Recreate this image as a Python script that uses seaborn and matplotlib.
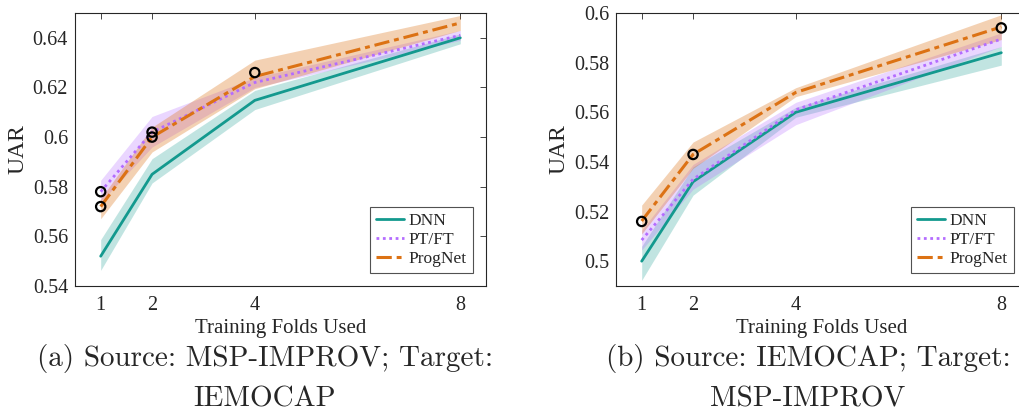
import numpy as np
import pandas as pd
import matplotlib
matplotlib.use("Agg")
import matplotlib.pyplot as plt
import seaborn as sns
from matplotlib.lines import Line2D

folds = [1, 2, 4, 8]
methods = ["DNN", "PT/FT", "ProgNet"]

# Panel (a): Source MSP-IMPROV, Target IEMOCAP
a_dnn = [0.552, 0.585, 0.6148, 0.640]
a_dnn_lo = [0.5463, 0.5815, 0.6111, 0.6376]
a_dnn_hi = [0.5587, 0.5913, 0.6188, 0.6416]
a_pt = [0.578, 0.602, 0.622, 0.641]
a_pt_lo = [0.5738, 0.596, 0.620, 0.639]
a_pt_hi = [0.5826, 0.6083, 0.624, 0.643]
a_pn = [0.572, 0.600, 0.6244, 0.646]
a_pn_lo = [0.5671, 0.594, 0.6195, 0.643]
a_pn_hi = [0.5752, 0.604, 0.631, 0.649]
a_circle_x = [1, 1, 2, 2, 4]
a_circle_y = [0.578, 0.572, 0.602, 0.600, 0.626]

# Panel (b): Source IEMOCAP, Target MSP-IMPROV
b_dnn = [0.500, 0.532, 0.560, 0.584]
b_dnn_lo = [0.4923, 0.5266, 0.558, 0.579]
b_dnn_hi = [0.506, 0.538, 0.562, 0.5865]
b_pt = [0.5085, 0.533, 0.561, 0.5895]
b_pt_lo = [0.5045, 0.529, 0.555, 0.5865]
b_pt_hi = [0.5125, 0.539, 0.564, 0.592]
b_pn = [0.5162, 0.543, 0.568, 0.5944]
b_pn_lo = [0.511, 0.5374, 0.5663, 0.5893]
b_pn_hi = [0.5226, 0.548, 0.5699, 0.5993]
b_circle_x = [1, 2, 8]
b_circle_y = [0.516, 0.543, 0.594]

a_yticks = [0.54, 0.56, 0.58, 0.60, 0.62, 0.64]
a_yticklabels = ["0.54", "0.56", "0.58", "0.6", "0.62", "0.64"]
b_yticks = [0.50, 0.52, 0.54, 0.56, 0.58, 0.60]
b_yticklabels = ["0.5", "0.52", "0.54", "0.56", "0.58", "0.6"]

captions = [("(a) Source: MSP-IMPROV; Target:", "IEMOCAP"),
            ("(b) Source: IEMOCAP; Target:", "MSP-IMPROV")]

sns.set_style("white")
plt.rcParams["font.family"] = ["Liberation Serif", "DejaVu Serif"]

colors = {"DNN": "#13998e", "PT/FT": "#b46cff", "ProgNet": "#dc7214"}
band_alpha = {"DNN": 0.26, "PT/FT": 0.28, "ProgNet": 0.32}
dashes = {"DNN": "", "PT/FT": (1, 1.3), "ProgNet": (5, 1.6, 1.6, 1.6)}
lws = {"DNN": 2.0, "PT/FT": 2.0, "ProgNet": 2.2}

fig = plt.figure(figsize=(10.19, 4.19), dpi=100)
W, H = 1019, 419
ax_a = fig.add_axes([75 / W, (H - 286) / H, 411 / W, 273 / H])
ax_b = fig.add_axes([616 / W, (H - 286) / H, 411 / W, 273 / H])

panels = [
    (ax_a, [a_dnn, a_pt, a_pn], [a_dnn_lo, a_pt_lo, a_pn_lo], [a_dnn_hi, a_pt_hi, a_pn_hi],
     a_circle_x, a_circle_y, (0.54, 0.65), a_yticks, a_yticklabels),
    (ax_b, [b_dnn, b_pt, b_pn], [b_dnn_lo, b_pt_lo, b_pn_lo], [b_dnn_hi, b_pt_hi, b_pn_hi],
     b_circle_x, b_circle_y, (0.49, 0.60), b_yticks, b_yticklabels),
]

for i, (ax, means, los, his, cx, cy, ylim, yt, ytl) in enumerate(panels):
    rows = []
    for m, vals in zip(methods, means):
        for f, v in zip(folds, vals):
            rows.append({"folds": f, "UAR": v, "method": m})
    df = pd.DataFrame(rows)
    for m, lo, hi in zip(methods, los, his):
        ax.fill_between(folds, lo, hi, color=colors[m], alpha=band_alpha[m], linewidth=0)
    for m in methods:
        sns.lineplot(data=df[df["method"] == m], x="folds", y="UAR", ax=ax,
                     color=colors[m], linewidth=lws[m], legend=False)
        ln = ax.get_lines()[-1]
        if dashes[m]:
            ln.set_dashes(dashes[m])
    sns.scatterplot(x=cx, y=cy, ax=ax, s=45, facecolors="none", edgecolor="black",
                    linewidth=1.6, zorder=5, legend=False)
    ax.set_xlim(0.5, 8.5)
    ax.set_ylim(*ylim)
    ax.set_xticks(folds)
    ax.set_xticklabels([str(f) for f in folds])
    ax.set_yticks(yt)
    ax.set_yticklabels(ytl)
    ax.tick_params(direction="in", length=4, width=0.6, top=True, right=True,
                   labelsize=14.5, colors="#262626", labelcolor="#262626")
    ax.tick_params(axis="x", pad=7)
    ax.tick_params(axis="y", pad=5)
    for s in ax.spines.values():
        s.set_color("#262626")
        s.set_linewidth(0.8)
    ax.set_xlabel("Training Folds Used", fontsize=15, color="#262626", labelpad=3)
    ax.set_ylabel("UAR", fontsize=17, color="#262626", labelpad=3)
    handles = []
    for m in methods:
        h = Line2D([0], [0], color=colors[m], linewidth=lws[m])
        if dashes[m]:
            h.set_dashes(dashes[m])
        handles.append(h)
    leg = ax.legend(handles, methods, loc="lower right", fontsize=12.5, frameon=True,
                    fancybox=False, edgecolor="#262626", handlelength=1.6,
                    handletextpad=0.3, borderpad=0.35, labelspacing=0.15,
                    borderaxespad=0.75)
    leg.get_frame().set_linewidth(0.8)

for cx_pix, (l1, l2) in zip([265, 808], captions):
    fig.text(cx_pix / W, 1 - 366 / H, l1, ha="center", va="baseline", fontsize=21,
             family="cmr10")
    fig.text(cx_pix / W, 1 - 406 / H, l2, ha="center", va="baseline", fontsize=21,
             family="cmr10")

fig.savefig("out.png", dpi=100)
